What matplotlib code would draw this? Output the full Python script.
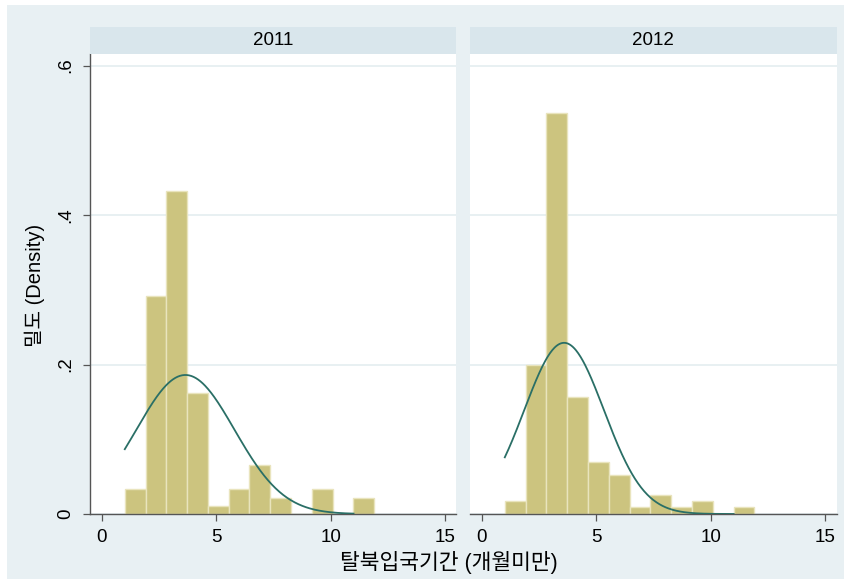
import numpy as np
import matplotlib
matplotlib.use('Agg')
from matplotlib import pyplot as plt
from matplotlib.patches import Rectangle

# histogram data (density per bin)
years = ['2011', '2012']
bin_start = 1.0
bin_end = 11.9
dens_2011 = [0.033, 0.292, 0.432, 0.162, 0.011, 0.033, 0.065, 0.022, 0.0, 0.033, 0.0, 0.022]
dens_2012 = [0.018, 0.200, 0.537, 0.156, 0.070, 0.052, 0.009, 0.026, 0.009, 0.018, 0.0, 0.009]
# fitted normal curves (mean, sd) and their drawn range
norm_2011 = (3.65, 2.145)
norm_2012 = (3.59, 1.742)
curve_range = (1.0, 11.0)

xticks = [0, 5, 10, 15]
xticklabels = ['0', '5', '10', '15']
yticks = [0, 0.2, 0.4, 0.6]
yticklabels = ['0', '.2', '.4', '.6']

xlabel = '탈북입국기간 (개월미만)'
ylabel = '밀도 (Density)'

W, H = 845, 579
bg = '#E8F0F3'
strip_col = '#D9E6EC'
grid_col = '#E4EDF0'
bar_col = '#CCC47F'
bar_edge = '#E9E4BD'
curve_col = '#2A6F66'
axis_col = '#555555'
lat_font = ['Liberation Sans', 'DejaVu Sans']
kr_font = ['Liberation Sans', 'Noto Sans CJK KR']

fig = plt.figure(figsize=(W / 100, H / 100), dpi=100)
fig.patch.set_facecolor('white')
fig.patches.append(Rectangle((7 / W, 0), 1 - 7 / W, 1 - 5 / H, transform=fig.transFigure,
                             facecolor=bg, edgecolor='none', zorder=-10))


def px_box(x0, x1, y0, y1):
    # pixel box (top-down y) -> figure fraction rect
    return [x0 / W, 1 - y1 / H, (x1 - x0) / W, (y1 - y0) / H]


panels = [(90, 456.5), (470, 836.7)]
all_dens = [dens_2011, dens_2012]
all_norm = [norm_2011, norm_2012]

for i, (x0, x1) in enumerate(panels):
    ax = fig.add_axes(px_box(x0, x1, 54, 514))
    ax.set_facecolor('white')
    dens = np.array(all_dens[i])
    edges = np.linspace(bin_start, bin_end, len(dens) + 1)
    ax.bar(edges[:-1], dens, width=np.diff(edges), align='edge', color=bar_col,
           edgecolor=bar_edge, linewidth=1.0, zorder=2)
    mu, sd = all_norm[i]
    xs = np.linspace(curve_range[0], curve_range[1], 300)
    ys = np.exp(-0.5 * ((xs - mu) / sd) ** 2) / (sd * np.sqrt(2 * np.pi))
    ax.plot(xs, ys, color=curve_col, lw=1.3, zorder=3)

    ax.set_xlim(-0.52, 15.5)
    ax.set_ylim(0, 0.6154)
    ax.set_yticks(yticks)
    ax.grid(axis='y', color=grid_col, lw=1.2, zorder=0)
    ax.set_axisbelow(True)
    ax.set_xticks(xticks)
    ax.set_xticklabels(xticklabels, family=lat_font, fontsize=13.5)
    ax.tick_params(axis='x', length=5, width=0.9, color=axis_col, pad=5.5)
    for s in ['top', 'right']:
        ax.spines[s].set_visible(False)
    ax.spines['bottom'].set_color(axis_col)
    ax.spines['bottom'].set_linewidth(1.0)
    if i == 0:
        ax.set_yticklabels(yticklabels, family=lat_font, fontsize=13.5, rotation=90, va='center')
        ax.tick_params(axis='y', length=5, width=0.9, color=axis_col, pad=6.5)
        ax.spines['left'].set_color(axis_col)
        ax.spines['left'].set_linewidth(1.0)
    else:
        ax.spines['left'].set_visible(False)
        ax.tick_params(axis='y', length=0, labelleft=False)

    sax = fig.add_axes(px_box(x0, x1, 26.7, 53.6))
    sax.set_facecolor(strip_col)
    sax.set_xticks([])
    sax.set_yticks([])
    for s in sax.spines.values():
        s.set_visible(False)
    sax.text(0.5, 0.5, years[i], ha='center', va='center', family=lat_font,
             fontsize=13.5, transform=sax.transAxes)

fig.text(448.5 / W, 1 - 563 / H, xlabel, ha='center', va='center', family=kr_font, fontsize=15.5)
fig.text(35 / W, 1 - 285 / H, ylabel, ha='center', va='center', rotation=90,
         family=kr_font, fontsize=14.5)

fig.savefig('out.png', dpi=100, facecolor=fig.get_facecolor())
